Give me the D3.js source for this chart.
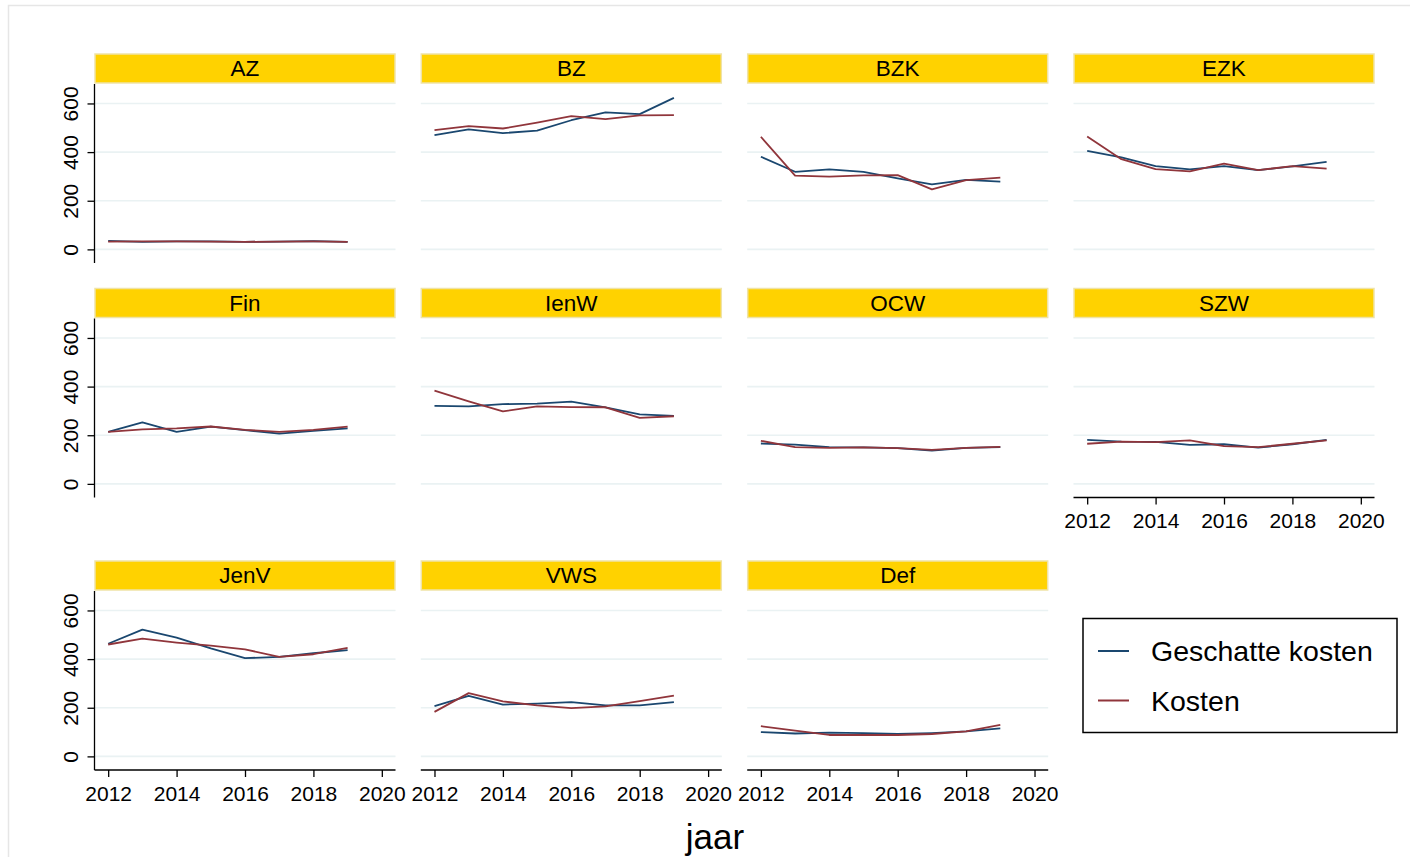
<!DOCTYPE html>
<html><head><meta charset="utf-8">
<script src="https://cdn.jsdelivr.net/npm/d3@7"></script>
<style>body{margin:0;background:#fff}svg{display:block;font-family:"Liberation Sans",Arial,sans-serif}</style>
</head><body>
<svg id="c" width="1410" height="857"></svg>
<script>
const years = [2012,2013,2014,2015,2016,2017,2018,2019];
const panels = ["AZ","BZ","BZK","EZK","Fin","IenW","OCW","SZW","JenV","VWS","Def"];
const geschat = {
  AZ:   [35,31,33,33,31,32,34,31],
  BZ:   [470,493,478,488,531,563,556,623],
  BZK:  [381,319,329,319,292,267,286,279],
  EZK:  [405,378,342,329,342,326,341,360],
  Fin:  [214,253,214,235,221,207,218,228],
  IenW: [321,319,328,330,338,315,286,280],
  OCW:  [166,161,151,150,147,137,148,151],
  SZW:  [181,174,173,160,163,149,163,181],
  JenV: [463,521,488,444,404,409,424,437],
  VWS:  [207,249,213,217,223,210,210,223],
  Def:  [100,94,98,96,92,96,103,115]
};
const kosten = {
  AZ:   [32,33,33,32,31,32,33,31],
  BZ:   [490,507,497,521,548,536,551,552],
  BZK:  [463,303,299,304,305,247,285,295],
  EZK:  [464,371,330,321,353,326,342,332],
  Fin:  [214,224,228,236,222,214,222,235],
  IenW: [383,339,298,319,316,315,271,278],
  OCW:  [177,151,148,150,147,140,148,152],
  SZW:  [165,174,172,179,155,151,165,179],
  JenV: [460,484,468,455,440,409,420,446],
  VWS:  [183,260,226,210,198,206,227,250],
  Def:  [124,106,88,88,88,92,103,130]
};
const yTicks = [0,200,400,600];
const xTicks = [2012,2014,2016,2018,2020];
const seriesNames = ["Geschatte kosten","Kosten"];
const seriesColors = ["#1a476f","#90353b"];

const svg = d3.select("#c");
svg.append("rect").attr("x",8.5).attr("y",5.5).attr("width",1420).attr("height",870)
  .attr("fill","none").attr("stroke","#e6e6e6").attr("stroke-width",1.5);

const colX = [94.5, 420.8, 747.2, 1073.5];
const panelW = 301;
const rowTop = [84, 318.5, 591];
const panelH = 179;
const stripH = 29;

const x = d3.scaleLinear().domain([2011.6, 2020.4]).range([0, panelW]);
const y = d3.scaleLinear().domain([-56, 680]).range([panelH, 0]);

panels.forEach((name, i) => {
  const r = Math.floor(i/4), c = i%4;
  const g = svg.append("g").attr("transform", `translate(${colX[c]},${rowTop[r]})`);
  // strip
  g.append("rect").attr("x",0.5).attr("y",-stripH-1).attr("width",panelW-1).attr("height",stripH)
    .attr("fill","#ffd200").attr("stroke","#efe3a6").attr("stroke-width",1.5);
  g.append("text").attr("x",panelW/2).attr("y",-stripH/2-1.5).attr("dy","0.36em")
    .attr("text-anchor","middle").attr("font-size",22.5).attr("fill","#000").text(name);
  // grid
  g.selectAll("line.grid").data(yTicks).join("line").attr("class","grid")
    .attr("x1",0).attr("x2",panelW).attr("y1",d=>y(d)).attr("y2",d=>y(d))
    .attr("stroke","#eaf2f3").attr("stroke-width",1.6);
  // lines
  const line = d3.line().x((d,k)=>x(years[k])).y(d=>y(d));
  [geschat, kosten].forEach((s, si) => {
    g.append("path").datum(s[name]).attr("d", line).attr("fill","none")
      .attr("stroke", seriesColors[si]).attr("stroke-width",1.8).attr("stroke-linejoin","round");
  });
  // y axis on first column
  if (c === 0) {
    const ya = d3.axisLeft(y).tickValues(yTicks).tickSize(7).tickPadding(9).tickFormat(d3.format("d"));
    const ag = g.append("g").call(ya);
    ag.select(".domain").attr("d", `M0,0V${panelH}`).attr("stroke","#000").attr("stroke-width",1.3);
    ag.selectAll(".tick line").attr("stroke","#000").attr("stroke-width",1.3);
    ag.selectAll(".tick text").attr("font-size",21).attr("fill","#000")
      .attr("font-family","'Liberation Sans',Arial,sans-serif")
      .attr("text-anchor","middle").attr("dy",0).attr("x",0)
      .attr("transform","translate(-16.5,0) rotate(-90)");
  }
  // x axis on bottom panels
  const isBottom = (r === 2) || (r === 1 && c === 3);
  if (isBottom) {
    const xa = d3.axisBottom(x).tickValues(xTicks).tickSize(7).tickPadding(9).tickFormat(d3.format("d"));
    const ag = g.append("g").attr("transform",`translate(0,${panelH})`).call(xa);
    ag.select(".domain").attr("d", `M0,0H${panelW}`).attr("stroke","#000").attr("stroke-width",1.3);
    ag.selectAll(".tick line").attr("stroke","#000").attr("stroke-width",1.3);
    ag.selectAll(".tick text").attr("font-size",21).attr("fill","#000")
      .attr("font-family","'Liberation Sans',Arial,sans-serif");
  }
});

// x title
svg.append("text").attr("x",715).attr("y",849).attr("text-anchor","middle")
  .attr("font-size",35).attr("fill","#000").text("jaar");

// legend
const lg = svg.append("g");
lg.append("rect").attr("x",1083).attr("y",618.5).attr("width",314).attr("height",114)
  .attr("fill","#fff").attr("stroke","#000").attr("stroke-width",1.5);
seriesNames.forEach((n, i) => {
  const yy = 651 + i*49.5;
  lg.append("line").attr("x1",1098).attr("x2",1129).attr("y1",yy).attr("y2",yy)
    .attr("stroke",seriesColors[i]).attr("stroke-width",2);
  lg.append("text").attr("x",1151).attr("y",yy).attr("dy","0.36em")
    .attr("font-size",28.5).attr("fill","#000").text(n);
});
</script>
</body></html>
